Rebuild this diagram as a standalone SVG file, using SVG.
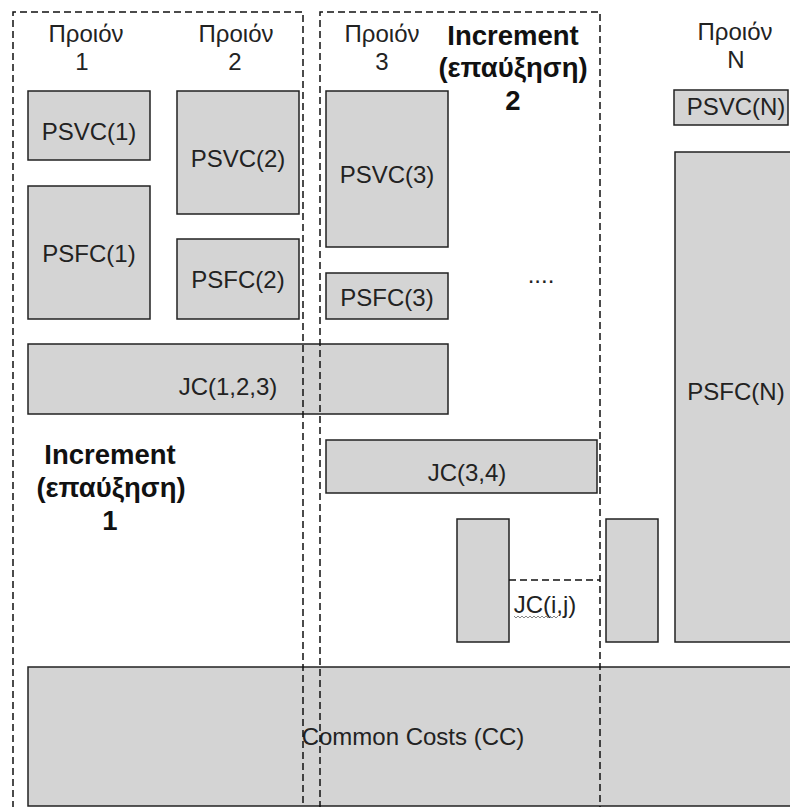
<svg xmlns="http://www.w3.org/2000/svg" width="790" height="807" viewBox="0 0 790 807">
<style>
.box{fill:#d4d4d4;stroke:#222;stroke-width:1.5}
.t{font-family:"Liberation Sans",Arial,sans-serif;font-size:24px;fill:#222;text-anchor:middle}
.b{font-family:"Liberation Sans",Arial,sans-serif;font-size:27.5px;font-weight:bold;fill:#111;text-anchor:middle}
.dash{fill:none;stroke:#111;stroke-width:1.5;stroke-dasharray:7 4}
</style>
<rect width="790" height="807" fill="#fff"/>
<g id="labels">
<text class="t" x="86" y="42">Προιόν</text><text class="t" x="82" y="70">1</text>
<text class="t" x="236" y="42">Προιόν</text><text class="t" x="235" y="70">2</text>
<text class="t" x="382" y="42">Προιόν</text><text class="t" x="382" y="70">3</text>
<text class="t" x="735" y="40">Προιόν</text><text class="t" x="736" y="68">N</text>
<text class="b" x="513" y="45">Increment</text><text class="b" x="513" y="77">(επαύξηση)</text><text class="b" x="513" y="110">2</text>
<text class="b" x="110" y="464">Increment</text><text class="b" x="111" y="497">(επαύξηση)</text><text class="b" x="110" y="530">1</text>
<text class="t" x="541" y="283">....</text>
</g>
<g id="psvc1"><rect class="box" x="28" y="91" width="122" height="69"/><text class="t" x="89" y="140">PSVC(1)</text></g>
<g id="psvc2"><rect class="box" x="177" y="91" width="122" height="123"/><text class="t" x="238" y="167">PSVC(2)</text></g>
<g id="psfc1"><rect class="box" x="28" y="186" width="122" height="133"/><text class="t" x="89" y="262">PSFC(1)</text></g>
<g id="psfc2"><rect class="box" x="177" y="239" width="122" height="80"/><text class="t" x="238" y="288">PSFC(2)</text></g>
<g id="psvc3"><rect class="box" x="326" y="91" width="122" height="156"/><text class="t" x="387" y="183">PSVC(3)</text></g>
<g id="psfc3"><rect class="box" x="326" y="273" width="122" height="46"/><text class="t" x="387" y="306">PSFC(3)</text></g>
<g id="psvcN"><rect class="box" x="674" y="90" width="114" height="35"/><text class="t" x="736" y="115">PSVC(N)</text></g>
<g id="psfcN"><rect class="box" x="675" y="152" width="130" height="490"/><text class="t" x="736" y="400">PSFC(N)</text></g>
<g id="jc123"><rect class="box" x="28" y="344" width="420" height="70"/><text class="t" x="228" y="395">JC(1,2,3)</text></g>
<g id="jc34"><rect class="box" x="326" y="440" width="271" height="53"/><text class="t" x="467" y="481">JC(3,4)</text></g>
<g id="bar-i"><rect class="box" x="457" y="519" width="52" height="123"/></g>
<g id="bar-j"><rect class="box" x="606" y="519" width="52" height="123"/></g>
<g id="cc"><rect class="box" x="28" y="667" width="780" height="139"/><text class="t" x="413" y="745">Common Costs (CC)</text></g>
<g id="connectors">
<path class="dash" d="M13 830V12H303V830"/>
<path class="dash" d="M320 830V12H600V830"/>
<path class="dash" d="M509 580H600"/>
</g>
<g id="jcij"><text class="t" x="545" y="613">JC(i,j)</text>
<path d="M514 616l2 2 2-2 2 2 2-2 2 2 2-2 2 2 2-2 2 2 2-2 2 2 2-2 2 2 2-2 2 2 2-2 2 2 2-2 2 2 2-2 2 2 2-2" fill="none" stroke="#888" stroke-width="1"/></g>
</svg>
